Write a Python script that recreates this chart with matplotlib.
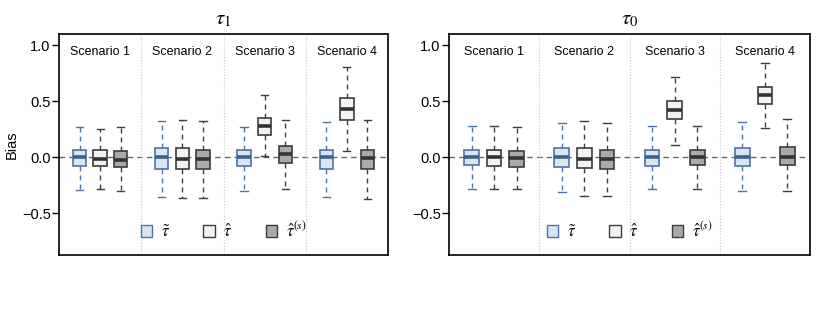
import numpy as np
import matplotlib
matplotlib.use("Agg")
import matplotlib.pyplot as plt
from matplotlib.patches import Patch

plt.rcParams["font.family"] = ["Liberation Sans", "DejaVu Sans"]
plt.rcParams["mathtext.fontset"] = "stix"

scenarios = ["Scenario 1", "Scenario 2", "Scenario 3", "Scenario 4"]
estimators = [r"$\tilde{\tau}$", r"$\hat{\tau}$", r"$\hat{\tau}^{(s)}$"]
panel_titles = [r"$\tau_1$", r"$\tau_0$"]

# five-number summaries per box, order: scenario 1 (tilde, hat, hat s), scenario 2 ...
# tau_1 panel
t1_lo  = [-0.29, -0.28, -0.30,  -0.35, -0.36, -0.36,  -0.30, 0.01, -0.285,  -0.35, 0.06, -0.37]
t1_q1  = [-0.08, -0.08, -0.09,  -0.10, -0.105, -0.107, -0.078, 0.20, -0.054, -0.10, 0.333, -0.105]
t1_med = [0.00, -0.01, -0.02,   0.00, -0.01, -0.012,  0.00, 0.28, 0.03,    0.00, 0.43, -0.005]
t1_q3  = [0.07, 0.065, 0.06,    0.08, 0.083, 0.07,    0.065, 0.35, 0.10,   0.07, 0.527, 0.07]
t1_hi  = [0.275, 0.255, 0.27,   0.325, 0.335, 0.325,  0.27, 0.556, 0.33,   0.32, 0.81, 0.33]

# tau_0 panel
t0_lo  = [-0.28, -0.285, -0.285, -0.305, -0.34, -0.34,  -0.28, 0.11, -0.28,  -0.30, 0.26, -0.30]
t0_q1  = [-0.07, -0.075, -0.083, -0.083, -0.093, -0.10, -0.075, 0.34, -0.07, -0.075, 0.48, -0.07]
t0_med = [0.00, 0.005, -0.005,   0.00, -0.01, -0.018,   0.00, 0.42, 0.00,    0.00, 0.56, 0.005]
t0_q3  = [0.07, 0.07, 0.06,      0.08, 0.085, 0.065,    0.07, 0.50, 0.07,    0.08, 0.63, 0.095]
t0_hi  = [0.28, 0.28, 0.27,      0.31, 0.325, 0.31,     0.28, 0.72, 0.28,    0.32, 0.845, 0.34]

fills = ["#d6e6f4", "#f2f2f2", "#aaaaaa"]
edges = ["#4f73a0", "#3c3c3c", "#3c3c3c"]
meds = ["#3e5f88", "#333333", "#333333"]

panels = [(t1_lo, t1_q1, t1_med, t1_q3, t1_hi), (t0_lo, t0_q1, t0_med, t0_q3, t0_hi)]

fig = plt.figure(figsize=(8.17, 3.16), dpi=100)
axes = [fig.add_axes([59 / 817, 1 - 255 / 316, 329 / 817, 221 / 316]),
        fig.add_axes([449 / 817, 1 - 255 / 316, 361 / 817, 221 / 316])]

for ax, data, title in zip(axes, panels, panel_titles):
    lo, q1, med, q3, hi = data
    ax.axhline(0, color="#666666", ls=(0, (4, 3)), lw=1, zorder=0)
    for d in (4, 8, 12):
        ax.axvline(d, color="#c8c8c8", ls=":", lw=0.8, zorder=0)
    for i in range(12):
        s, k = divmod(i, 3)
        pos = 4 * s + k + 1
        st = [dict(whislo=lo[i], q1=q1[i], med=med[i], q3=q3[i], whishi=hi[i], fliers=[])]
        ax.bxp(st, positions=[pos], widths=0.65, patch_artist=True, showfliers=False,
               boxprops=dict(facecolor=fills[k], edgecolor=edges[k], lw=1.2),
               medianprops=dict(color=meds[k], lw=2.6, solid_capstyle="butt"),
               whiskerprops=dict(color=edges[k], ls=(0, (3.5, 3)), lw=1),
               capprops=dict(color=edges[k], lw=1), capwidths=0.35)
    for s, name in enumerate(scenarios):
        ax.text(4 * s + 2, 0.94, name, ha="center", va="center", fontsize=9)
    ax.set_xlim(0, 16)
    ax.set_ylim(-0.87, 1.1)
    ax.set_xticks([])
    ax.set_yticks([-0.5, 0.0, 0.5, 1.0])
    ax.set_yticklabels(["\u22120.5", "0.0", "0.5", "1.0"], fontsize=10.5)
    ax.tick_params(axis="y", length=5, width=1, pad=1)
    for sp in ax.spines.values():
        sp.set_linewidth(1.2)
    ax.set_title(title, fontsize=15, pad=7)
    handles = [Patch(facecolor=fills[k], edgecolor=edges[k], lw=1) for k in range(3)]
    ax.legend(handles, estimators, loc="lower center", bbox_to_anchor=(0.5, 0.0),
              ncol=3, frameon=False, fontsize=12, handlelength=0.7, handleheight=0.7,
              columnspacing=2.0, handletextpad=0.5)

axes[0].set_ylabel("Bias", fontsize=10.5, labelpad=2)

fig.savefig("out.png", dpi=100)
